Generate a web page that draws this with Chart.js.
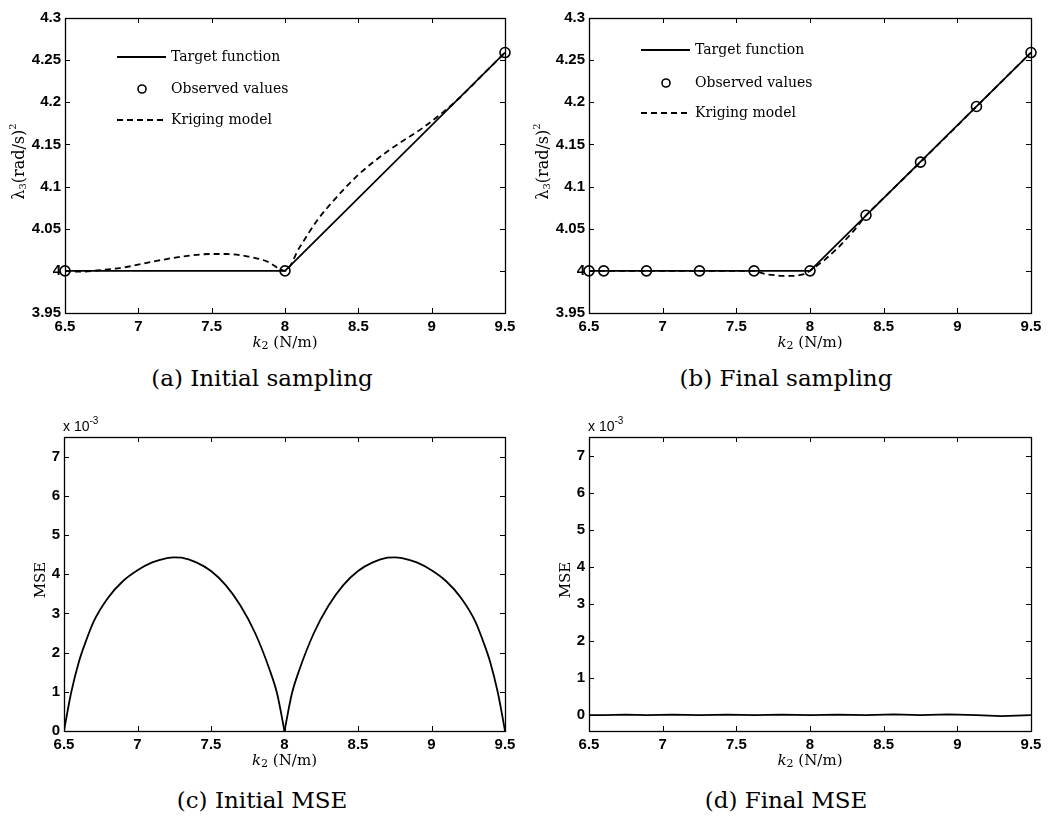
<!DOCTYPE html>
<html>
<head>
<meta charset="utf-8">
<script src="https://cdn.jsdelivr.net/npm/chart.js@4.4.1/dist/chart.umd.min.js"></script>
<style>
  body { margin: 0; background: #fff; width: 1048px; height: 819px; position: relative; overflow: hidden; }
  canvas { position: absolute; }
  .cap { position: absolute; width: 524px; text-align: center; font: 23px "DejaVu Serif", serif; line-height: 26px; color: #000; }
</style>
</head>
<body>
<canvas id="ca" width="524" height="360" style="left:0;top:0"></canvas>
<canvas id="cb" width="524" height="360" style="left:524px;top:0"></canvas>
<canvas id="cc" width="524" height="370" style="left:0;top:400px"></canvas>
<canvas id="cd" width="524" height="370" style="left:524px;top:400px"></canvas>
<div class="cap" style="left:0;top:365px">(a) Initial sampling</div>
<div class="cap" style="left:524px;top:365px">(b) Final sampling</div>
<div class="cap" style="left:0;top:787px">(c) Initial MSE</div>
<div class="cap" style="left:524px;top:787px">(d) Final MSE</div>
<script>
// ticks
const xTicks = [6.5, 7, 7.5, 8, 8.5, 9, 9.5];
const yTicksTop = [3.95, 4, 4.05, 4.1, 4.15, 4.2, 4.25, 4.3];
const yTicksMse = [0, 1, 2, 3, 4, 5, 6, 7];

// (a) initial sampling
const targetX = [6.5, 8, 9.5];
const targetY = [4.0, 4.0, 4.259];
const obsXA = [6.5, 8, 9.5];
const obsYA = [4.0, 4.0, 4.259];
const krigXA = [6.5, 6.6, 6.75, 6.9, 7.1, 7.3, 7.5, 7.6, 7.75, 7.88, 8.0, 8.1, 8.22, 8.35, 8.5, 8.7, 8.95, 9.17, 9.35, 9.5];
const krigYA = [4.0, 3.999, 4.001, 4.004, 4.011, 4.017, 4.020, 4.020, 4.017, 4.011, 4.0, 4.028, 4.06, 4.087, 4.114, 4.142, 4.171, 4.202, 4.233, 4.259];

// (b) final sampling
const obsXB = [6.5, 6.6, 6.89, 7.25, 7.62, 8.0, 8.38, 8.75, 9.13, 9.5];
const obsYB = [4.0, 4.0, 4.0, 4.0, 4.0, 4.0, 4.066, 4.129, 4.195, 4.259];
const krigXB = [6.5, 6.6, 6.89, 7.25, 7.62, 7.7, 7.8, 7.9, 7.96, 8.0, 8.1, 8.2, 8.3, 8.38, 8.75, 9.13, 9.5];
const krigYB = [4.0, 4.0, 4.0, 4.0, 4.0, 3.996, 3.994, 3.994, 3.996, 4.0, 4.013, 4.029, 4.048, 4.066, 4.129, 4.195, 4.259];

// (c) initial MSE (x 10^-3), left and right humps
const mseXC1 = [6.5, 6.52, 6.55, 6.6, 6.65, 6.7, 6.8, 6.9, 7.0, 7.1, 7.2, 7.25, 7.3, 7.4, 7.5, 7.6, 7.7, 7.8, 7.9, 7.95, 8.0];
const mseYC1 = [0, 0.42, 1.0, 1.75, 2.3, 2.78, 3.4, 3.82, 4.1, 4.3, 4.41, 4.43, 4.42, 4.3, 4.08, 3.72, 3.2, 2.5, 1.55, 0.95, 0];
const mseXC2 = [8.0, 8.05, 8.1, 8.2, 8.3, 8.4, 8.5, 8.6, 8.7, 8.75, 8.8, 8.9, 9.0, 9.1, 9.2, 9.3, 9.35, 9.4, 9.45, 9.48, 9.5];
const mseYC2 = [0, 0.95, 1.55, 2.5, 3.2, 3.72, 4.08, 4.3, 4.42, 4.43, 4.41, 4.3, 4.1, 3.82, 3.4, 2.78, 2.3, 1.75, 1.0, 0.42, 0];

// (d) final MSE (x 10^-3)
const mseXD = [6.5, 6.6, 6.75, 6.89, 7.07, 7.25, 7.44, 7.62, 7.81, 8.0, 8.19, 8.38, 8.57, 8.75, 8.94, 9.13, 9.3, 9.5];
const mseYD = [0, 0, 0.01, 0, 0.01, 0, 0.01, 0, 0.01, 0, 0.01, 0, 0.02, 0, 0.02, 0, -0.03, 0];

const serif = '"DejaVu Serif", serif';
const sans = '"Liberation Sans", Arial, sans-serif';

function pts(xs, ys) { return xs.map((x, i) => ({ x: x, y: ys[i] })); }
function line(xs, ys, dash, smooth) {
  return { data: pts(xs, ys), showLine: true, pointRadius: 0, borderColor: '#000', borderWidth: 1.8,
           borderDash: dash || [], fill: false, tension: 0,
           cubicInterpolationMode: smooth ? 'monotone' : 'default' };
}
function marks(xs, ys) {
  return { data: pts(xs, ys), showLine: false, pointRadius: 5, pointStyle: 'circle', borderColor: '#000',
           backgroundColor: 'rgba(0,0,0,0)', pointBorderWidth: 1.6, clip: false };
}

// draw text made of several pieces (sub/superscripts), centred on x unless left = true
function rich(ctx, parts, x, y, left) {
  let w = 0;
  parts.forEach(p => { ctx.font = p.f; w += ctx.measureText(p.t).width; });
  let cx = left ? x : x - w / 2;
  ctx.textBaseline = 'middle';
  ctx.textAlign = 'left';
  parts.forEach(p => {
    ctx.font = p.f;
    ctx.fillText(p.t, cx, y + (p.dy || 0));
    cx += ctx.measureText(p.t).width;
  });
}

// matlab style box, inward ticks, titles, legend
const frame = {
  id: 'frame',
  afterDraw(chart, args, o) {
    const { ctx, chartArea: a, scales: { x, y } } = chart;
    ctx.save();
    ctx.strokeStyle = '#000';
    ctx.fillStyle = '#000';
    ctx.lineWidth = 1.3;
    ctx.strokeRect(a.left + 0.5, a.top + 0.5, a.right - a.left, a.bottom - a.top);
    ctx.lineWidth = 1;
    ctx.beginPath();
    x.ticks.forEach(t => {
      const px = Math.round(x.getPixelForValue(t.value)) + 0.5;
      ctx.moveTo(px, a.bottom); ctx.lineTo(px, a.bottom - 5);
      ctx.moveTo(px, a.top); ctx.lineTo(px, a.top + 5);
    });
    y.ticks.forEach(t => {
      const py = Math.round(y.getPixelForValue(t.value)) + 0.5;
      ctx.moveTo(a.left, py); ctx.lineTo(a.left + 5, py);
      ctx.moveTo(a.right, py); ctx.lineTo(a.right - 5, py);
    });
    ctx.stroke();

    // x title
    rich(ctx, [
      { t: 'k', f: 'italic 15px ' + serif },
      { t: '2', f: '11px ' + serif, dy: 3 },
      { t: ' (N/m)', f: '15px ' + serif }
    ], (a.left + a.right) / 2, a.bottom + 30);

    // y title
    ctx.save();
    ctx.translate(a.left - o.yTitleOff, (a.top + a.bottom) / 2 - 4);
    ctx.rotate(-Math.PI / 2);
    rich(ctx, o.yTitle, 0, 0);
    ctx.restore();

    if (o.exponent) {
      rich(ctx, [
        { t: 'x 10', f: '14px ' + sans },
        { t: '-3', f: '10px ' + sans, dy: -6 }
      ], a.left - 1, a.top - 10, true);
    }

    if (o.legend) {
      const lx = a.left + 52, tx = a.left + 106;
      const r = o.legend.map(v => a.top + v);
      ctx.lineWidth = 1.8;
      ctx.beginPath(); ctx.moveTo(lx, r[0]); ctx.lineTo(lx + 49, r[0]); ctx.stroke();
      ctx.lineWidth = 1.6;
      ctx.beginPath(); ctx.arc(lx + 25, r[1], 4, 0, Math.PI * 2); ctx.stroke();
      ctx.lineWidth = 1.8;
      ctx.setLineDash([6, 4]);
      ctx.beginPath(); ctx.moveTo(lx, r[2]); ctx.lineTo(lx + 49, r[2]); ctx.stroke();
      ctx.setLineDash([]);
      ctx.font = '14px ' + serif;
      ctx.textBaseline = 'middle';
      ctx.fillText('Target function', tx, r[0]);
      ctx.fillText('Observed values', tx, r[1]);
      ctx.fillText('Kriging model', tx, r[2]);
    }
    ctx.restore();
  }
};

const tickFont = { family: sans, size: 15, weight: 'bold' };

function panel(id, datasets, yMin, yMax, yTicks, f) {
  return new Chart(document.getElementById(id), {
    type: 'scatter',
    data: { datasets: datasets },
    options: {
      responsive: false,
      animation: false,
      layout: { padding: { top: f.top, right: f.right, left: 0, bottom: 0 } },
      plugins: { legend: { display: false }, tooltip: { enabled: false }, frame: f },
      scales: {
        x: {
          type: 'linear', min: 6.5, max: 9.5,
          grid: { display: false, drawTicks: false }, border: { display: false },
          ticks: { font: tickFont, color: '#000', padding: 5, autoSkip: false, maxRotation: 0,
                   callback: v => String(v) },
          afterBuildTicks: s => { s.ticks = xTicks.map(v => ({ value: v })); },
          afterFit: s => { s.height = f.bottom; s.paddingLeft = 0; s.paddingRight = 0; }
        },
        y: {
          type: 'linear', min: yMin, max: yMax,
          grid: { display: false, drawTicks: false }, border: { display: false },
          ticks: { font: tickFont, color: '#000', padding: 4, autoSkip: false,
                   callback: v => String(+v.toFixed(2)) },
          afterBuildTicks: s => { s.ticks = yTicks.map(v => ({ value: v })); },
          afterFit: s => { s.width = f.left; s.paddingTop = 0; s.paddingBottom = 0; }
        }
      }
    },
    plugins: [frame]
  });
}

const lambdaTitle = [
  { t: 'λ', f: '16px ' + serif },
  { t: '3', f: '10px ' + serif, dy: 3 },
  { t: '(rad/s)', f: '16px ' + serif },
  { t: '2', f: '10px ' + serif, dy: -7 }
];
const mseTitle = [{ t: 'MSE', f: '15px ' + serif }];

panel('ca', [line(targetX, targetY), marks(obsXA, obsYA), line(krigXA, krigYA, [6, 4], true)],
  3.95, 4.3, yTicksTop,
  { top: 18, right: 19, left: 65, bottom: 47, yTitleOff: 45, yTitle: lambdaTitle, legend: [39, 71, 102] });

panel('cb', [line(targetX, targetY), marks(obsXB, obsYB), line(krigXB, krigYB, [6, 4])],
  3.95, 4.3, yTicksTop,
  { top: 18, right: 17, left: 65, bottom: 47, yTitleOff: 45, yTitle: lambdaTitle, legend: [32, 65, 95] });

panel('cc', [line(mseXC1, mseYC1, null, true), line(mseXC2, mseYC2, null, true)],
  0, 7.5, yTicksMse,
  { top: 37, right: 19, left: 64, bottom: 39, yTitleOff: 23, yTitle: mseTitle, exponent: true });

panel('cd', [line(mseXD, mseYD)],
  -0.43, 7.5, yTicksMse,
  { top: 37, right: 17, left: 65, bottom: 39, yTitleOff: 23, yTitle: mseTitle, exponent: true });
</script>
</body>
</html>
